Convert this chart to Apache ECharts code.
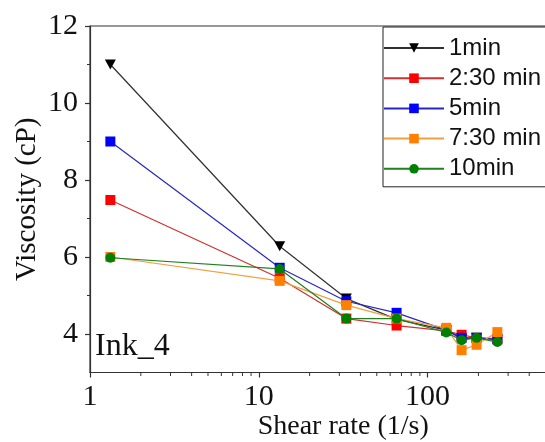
<!DOCTYPE html>
<html>
<head>
<meta charset="utf-8">
<script src="https://cdn.jsdelivr.net/npm/echarts@6/dist/echarts.min.js"></script>
<style>html,body{margin:0;padding:0;background:#fff;}#c{width:545px;height:442px;}</style>
</head>
<body>
<div id="c"></div>
<script>
// Data
const shearRate = [1.32, 13.3, 33, 65.5, 129, 159, 195, 259];
const seriesNames = ['1min', '2:30 min', '5min', '7:30 min', '10min'];
const visc1min   = [11.0, 6.28, 4.92, 4.38, 4.10, 3.88, 3.90, 3.85];
const visc2m30   = [7.48, 5.45, 4.40, 4.22, 4.08, 3.98, 3.90, 3.88];
const visc5min   = [9.0, 5.72, 4.85, 4.55, 4.10, 3.90, 3.90, 3.86];
const visc7m30   = [6.0, 5.38, 4.75, 4.40, 4.16, 3.58, 3.72, 4.05];
const visc10min  = [5.98, 5.69, 4.40, 4.40, 4.04, 3.84, 3.90, 3.79];
const yMajorTicks = [4, 6, 8, 10, 12];
const yMinorTicks = [5, 7, 9, 11];
const xMinorTicks = [2, 3, 4, 5, 6, 7, 8, 9, 20, 30, 40, 50, 60, 70, 80, 90, 200, 300, 400, 500, 600, 700, 800, 900];
const panelLabel = 'Ink_4';

const valueArrays = [visc1min, visc2m30, visc5min, visc7m30, visc10min];
const markerColors = ['#000000', '#ff0000', '#0000ff', '#ff8000', '#008000'];
const lineColors = ['#303030', '#d03030', '#2828c0', '#f0a040', '#208020'];
const symbols = ['triangle', 'rect', 'rect', 'rect', 'circle'];
const symbolRot = [180, 0, 0, 0, 0];
const symbolSizes = [[11, 10], 10, 10, 10, 10];

const serif = 'Liberation Serif';
const sans = 'Liberation Sans';
const axisColor = '#333';

const lineSeries = seriesNames.map((name, i) => ({
  name: name,
  type: 'line',
  xAxisIndex: 0,
  yAxisIndex: 0,
  data: shearRate.map((x, k) => [x, valueArrays[i][k]]),
  symbol: symbols[i],
  symbolRotate: symbolRot[i],
  symbolSize: symbolSizes[i],
  showAllSymbol: true,
  clip: false,
  itemStyle: { color: markerColors[i] },
  lineStyle: { color: lineColors[i], width: 1.2 },
  emphasis: { disabled: true },
  z: 3 + i
}));

const minorTickSeries = {
  type: 'custom',
  name: 'xminor',
  xAxisIndex: 0,
  yAxisIndex: 0,
  silent: true,
  clip: false,
  data: xMinorTicks.map(v => [v, 3]),
  renderItem: function (params, api) {
    const p = api.coord([api.value(0), api.value(1)]);
    return {
      type: 'line',
      shape: { x1: p[0], y1: p[1], x2: p[0], y2: p[1] + 3.5 },
      style: { stroke: axisColor, lineWidth: 1 }
    };
  },
  z: 10
};

const chart = echarts.init(document.getElementById('c'), null, { renderer: 'canvas' });
chart.setOption({
  animation: false,
  backgroundColor: '#ffffff',
  title: {
    text: panelLabel,
    left: 95,
    top: 331,
    padding: 0,
    textStyle: { fontFamily: serif, fontSize: 32, fontWeight: 'normal', color: '#111' }
  },
  legend: {
    data: seriesNames,
    orient: 'vertical',
    left: 383,
    top: 27,
    padding: [9, 30, 6, 0],
    itemWidth: 60,
    itemHeight: 12,
    itemGap: 6.2,
    borderColor: '#222',
    borderWidth: 1,
    backgroundColor: '#fff',
    textStyle: { fontFamily: sans, fontSize: 24, color: '#111', lineHeight: 24 },
    selectedMode: false
  },
  grid: {
    left: 90,
    top: 26,
    right: -51.4,
    bottom: 69.5,
    show: true,
    borderColor: axisColor,
    borderWidth: 1.2,
    backgroundColor: 'transparent',
    containLabel: false,
    outerBoundsMode: 'none'
  },
  xAxis: [{
    type: 'log',
    logBase: 10,
    min: 1,
    max: 1000,
    name: 'Shear rate (1/s)',
    nameLocation: 'middle',
    nameGap: 40,
    nameMoveOverlap: false,
    nameTextStyle: { fontFamily: serif, fontSize: 28, color: '#111' },
    axisLine: { show: true, lineStyle: { color: axisColor, width: 1.2 } },
    axisTick: { show: true, inside: false, length: 5, lineStyle: { color: axisColor, width: 1.2 } },
    axisLabel: { fontFamily: serif, fontSize: 30, color: '#111', margin: 10, hideOverlap: false },
    splitLine: { show: false },
    minorTick: { show: false }
  }],
  yAxis: [{
    type: 'value',
    min: 3,
    max: 12,
    name: 'Viscosity (cP)',
    nameLocation: 'middle',
    nameGap: 48,
    nameMoveOverlap: false,
    nameRotate: 90,
    nameTextStyle: { fontFamily: serif, fontSize: 29, color: '#111' },
    axisLine: { show: true, lineStyle: { color: axisColor, width: 1.2 } },
    axisTick: { show: true, inside: false, length: 5, customValues: yMajorTicks, lineStyle: { color: axisColor, width: 1.2 } },
    axisLabel: { fontFamily: serif, fontSize: 30, color: '#111', margin: 12, customValues: yMajorTicks },
    splitLine: { show: false }
  }, {
    type: 'value',
    position: 'left',
    min: 3,
    max: 12,
    axisLine: { show: false },
    axisTick: { show: true, inside: false, length: 3, customValues: yMinorTicks, lineStyle: { color: axisColor, width: 1 } },
    axisLabel: { show: false },
    splitLine: { show: false }
  }],
  series: lineSeries.concat([minorTickSeries])
});
</script>
</body>
</html>
